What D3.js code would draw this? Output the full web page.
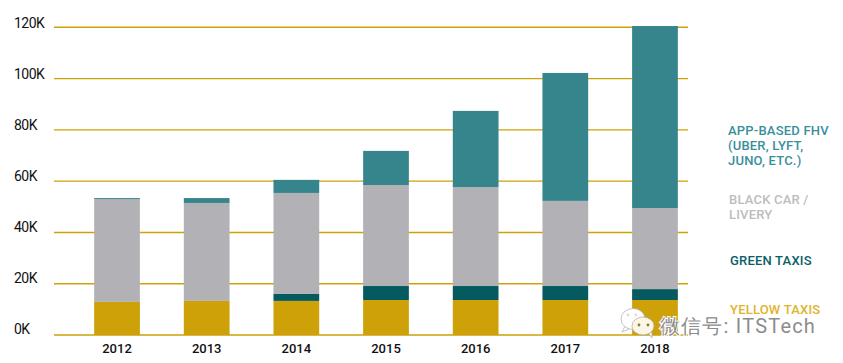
<!DOCTYPE html>
<html>
<head>
<meta charset="utf-8">
<script src="https://d3js.org/d3.v7.min.js"></script>
<style>
html, body { margin: 0; padding: 0; background: #fff; }
svg { display: block; }
text { font-family: Roboto, sans-serif; }
</style>
</head>
<body>
<script>
// values in thousands
var years = ["2012", "2013", "2014", "2015", "2016", "2017", "2018"];
var yellowTaxis = [12.9, 13.3, 13.3, 13.65, 13.65, 13.65, 13.65];
var greenTaxis = [0, 0, 2.7, 5.45, 5.45, 5.45, 4.25];
var blackCar = [40.1, 38.2, 39.4, 39.4, 38.6, 33.2, 31.6];
var appBased = [0.4, 1.9, 5.1, 13.3, 29.7, 49.9, 71];
var tickValues = [0, 20, 40, 60, 80, 100, 120];
var appLabel = ["APP-BASED FHV", "(UBER, LYFT,", "JUNO, ETC.)"];
var blackLabel = ["BLACK CAR /", "LIVERY"];
var greenLabel = ["GREEN TAXIS"];
var yellowLabel = ["YELLOW TAXIS"];

var seriesKeys = ["yellow", "green", "black", "app"];
var colors = { yellow: "#cda107", green: "#045a5e", black: "#b2b1b6", app: "#36858d" };

var rows = years.map(function(y, i) {
	return { year: y, yellow: yellowTaxis[i], green: greenTaxis[i], black: blackCar[i], app: appBased[i] };
});

var width = 843, height = 363;

var svg = d3.select("body").append("svg")
	.attr("width", width)
	.attr("height", height);

var x = d3.scaleBand()
	.domain(years)
	.range([72.2, 699.8])
	.paddingInner(0.49)
	.paddingOuter(0.245);

var y = d3.scaleLinear()
	.domain([0, 120])
	.range([335, 27.3]);

// the tick labels sit on their own slightly tighter spacing
var labelY = d3.scaleLinear()
	.domain([0, 120])
	.range([334, 28]);

// gridlines
svg.append("g")
	.selectAll("line")
	.data(tickValues)
	.enter()
	.append("line")
		.attr("x1", 54)
		.attr("x2", 688)
		.attr("y1", function(d) { return y(d); })
		.attr("y2", function(d) { return y(d); })
		.attr("stroke", "#cda107")
		.attr("stroke-width", 1.4);

// bars
var stacked = d3.stack().keys(seriesKeys)(rows);

svg.append("g")
	.selectAll("g")
	.data(stacked)
	.enter()
	.append("g")
		.attr("fill", function(d) { return colors[d.key]; })
	.selectAll("rect")
	.data(function(d) { return d; })
	.enter()
	.append("rect")
		.attr("x", function(d) { return x(d.data.year); })
		.attr("width", x.bandwidth())
		.attr("y", function(d) { return y(d[1]); })
		.attr("height", function(d) { return y(d[0]) - y(d[1]); });

// axis labels
svg.append("g")
	.selectAll("text")
	.data(tickValues)
	.enter()
	.append("text")
		.attr("x", 14)
		.attr("y", function(d) { return labelY(d); })
		.attr("font-size", 14)
		.attr("letter-spacing", -0.5)
		.attr("fill", "#111")
		.text(function(d) { return d + "K"; });

svg.append("g")
	.selectAll("text")
	.data(years)
	.enter()
	.append("text")
		.attr("x", function(d) { return x(d) + x.bandwidth() / 2; })
		.attr("y", 353)
		.attr("text-anchor", "middle")
		.attr("font-size", 13)
		.attr("font-weight", 500)
		.attr("fill", "#111")
		.text(function(d) { return d; });

// legend
function legendBlock(lines, px, py, color) {
	svg.append("g")
		.selectAll("text")
		.data(lines)
		.enter()
		.append("text")
			.attr("x", px)
			.attr("y", function(d, i) { return py + i * 15; })
			.attr("font-size", 13)
			.attr("font-weight", 500)
			.attr("letter-spacing", 0.2)
			.attr("fill", color)
			.text(function(d) { return d; });
}
legendBlock(appLabel, 728, 135, "#3a8f9c");
legendBlock(blackLabel, 729, 204, "#bdbcc0");
legendBlock(greenLabel, 730, 265, "#0b5e68");
legendBlock(yellowLabel, 730, 314, "#e0b32c");

// watermark
var mark = svg.append("g");

function bubble(cx, cy, rx, ry, tail, fill) {
	mark.append("path")
		.attr("d", tail)
		.attr("fill", fill)
		.attr("stroke", "#aaa")
		.attr("stroke-width", 0.7);
	mark.append("ellipse")
		.attr("cx", cx).attr("cy", cy).attr("rx", rx).attr("ry", ry)
		.attr("fill", fill)
		.attr("stroke", "#aaa")
		.attr("stroke-width", 0.7);
}
bubble(633, 319, 12, 10.5, "M625 326 l-3 6 l7 -3 z", "#fff");
bubble(643, 326, 11, 9, "M648 333 l4 5 l0 -6 z", "#fbf6e6");
mark.selectAll("circle.eye")
	.data([628, 636, 639, 648])
	.enter()
	.append("circle")
		.attr("cx", function(d) { return d; })
		.attr("cy", function(d, i) { return i < 2 ? 315 : 325; })
		.attr("r", 1.4)
		.attr("fill", function(d, i) { return i < 2 ? "#ddd" : "#8a7a40"; });

svg.append("text")
	.attr("x", 660)
	.attr("y", 333)
	.attr("font-family", "'Noto Sans CJK SC', sans-serif")
	.attr("font-size", 20)
	.attr("letter-spacing", 1.2)
	.attr("fill", "#8c8c8c")
	.attr("stroke", "#fff")
	.attr("stroke-width", 2)
	.attr("paint-order", "stroke")
	.text("微信号: ITSTech");
</script>
</body>
</html>
